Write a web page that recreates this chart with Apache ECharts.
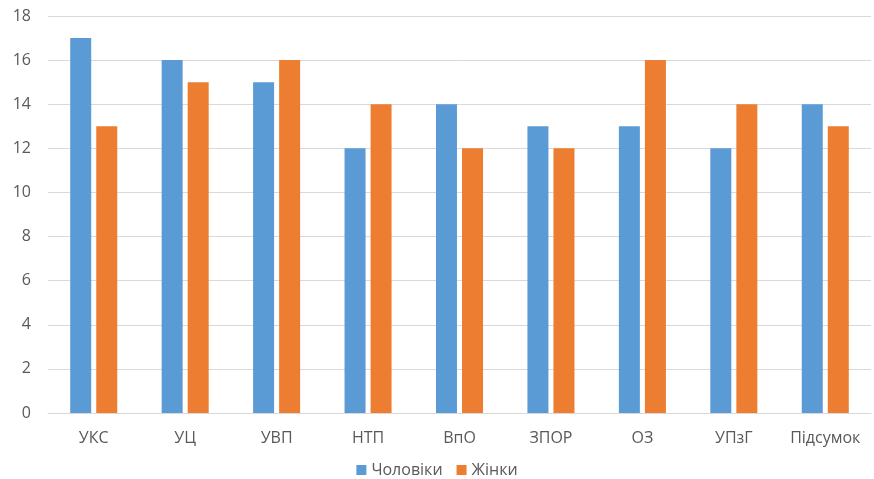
<!DOCTYPE html>
<html>
<head>
<meta charset="utf-8">
<script src="https://cdn.jsdelivr.net/npm/echarts@6/dist/echarts.min.js"></script>
<style>
html,body{margin:0;padding:0;background:#fff;}
#chart{width:874px;height:479px;}
</style>
</head>
<body>
<div id="chart"></div>
<script>
const categories = ['УКС', 'УЦ', 'УВП', 'НТП', 'ВпО', 'ЗПОР', 'ОЗ', 'УПзГ', 'Підсумок'];
const men = [17, 16, 15, 12, 14, 13, 13, 12, 14];
const women = [13, 15, 16, 14, 12, 12, 16, 14, 13];
const seriesNames = ['Чоловіки', 'Жінки'];

const font = '"Open Sans", "Liberation Sans", sans-serif';
const chart = echarts.init(document.getElementById('chart'));
chart.setOption({
  animation: false,
  textStyle: { fontFamily: font },
  grid: { left: 48, right: 3, top: 16, bottom: 66, containLabel: false },
  legend: {
    top: 457,
    left: 'center',
    itemWidth: 10,
    itemHeight: 10,
    itemGap: 14,
    icon: 'rect',
    textStyle: { fontFamily: font, fontSize: 16, color: '#595959' },
    data: seriesNames
  },
  xAxis: {
    type: 'category',
    data: categories,
    axisLine: { lineStyle: { color: '#d9d9d9' } },
    axisTick: { show: false },
    axisLabel: { fontFamily: font, fontSize: 16, color: '#595959', margin: 17 }
  },
  yAxis: {
    type: 'value',
    min: 0,
    max: 18,
    interval: 2,
    axisLine: { show: false },
    axisTick: { show: false },
    splitLine: { lineStyle: { color: '#d9d9d9' } },
    axisLabel: { fontFamily: font, fontSize: 16, color: '#595959', margin: 17 }
  },
  series: [
    { name: seriesNames[0], type: 'bar', data: men, barWidth: 21, barGap: '24%', itemStyle: { color: '#5b9bd5' } },
    { name: seriesNames[1], type: 'bar', data: women, barWidth: 21, itemStyle: { color: '#ed7d31' } }
  ]
});
</script>
</body>
</html>
